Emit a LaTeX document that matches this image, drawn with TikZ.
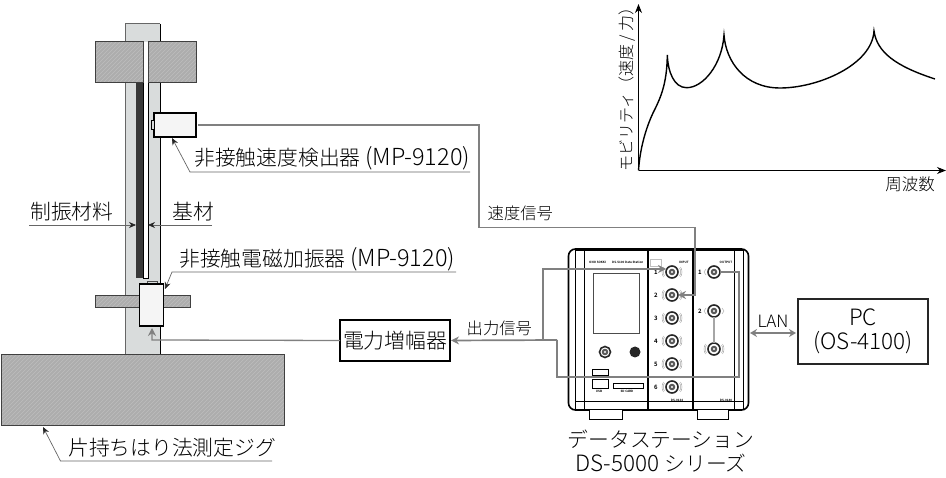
\documentclass[tikz,border=0pt]{standalone}
\usepackage{fontspec}
\usetikzlibrary{arrows.meta}
\setmainfont{Noto Sans CJK JP Light}
\definecolor{wire}{HTML}{808080}
\definecolor{colgray}{HTML}{D9DCDC}
\definecolor{hatchg}{HTML}{ADADAD}
\definecolor{hatchl}{HTML}{BDBDBD}
\definecolor{lead}{HTML}{666666}
\newcommand{\lat}[1]{{\fontsize{23.5}{24}\selectfont #1}}
\tikzset{x=1pt,y=-1pt,
 wireline/.style={draw=wire,line width=1.7pt},
 leader/.style={draw=lead,line width=.7pt},
 leadarrow/.style={leader,-{Stealth[length=7pt,width=6pt,black!85]}},
 wirearrow/.style={wireline,-{Stealth[length=8pt,width=8pt,wire]}},
 box/.style={draw=black,line width=1.5pt,fill=white,inner sep=0pt,outer sep=0pt},
 lab/.style={inner sep=0pt,font=\fontsize{20.8}{24}\selectfont},
 small/.style={inner sep=0pt,font=\fontsize{16.3}{18}\selectfont},
 tiny/.style={inner sep=0pt,font=\fontsize{3}{4}\selectfont\bfseries},
 chan/.style={inner sep=0pt,font=\fontsize{6}{7}\selectfont\bfseries},
 panel/.style={black,line width=1pt},
 bnc/.style={circle,draw=black!85,line width=1.6pt,fill=white,minimum size=12pt,inner sep=0pt,outer sep=0pt,
   path picture={\fill[black!65] (path picture bounding box.center) circle (3.3pt);\fill[white] (path picture bounding box.center) circle (1.2pt);}},
}
\newcommand{\hatchrect}[4]{\fill[hatchg] (#1,#2) rectangle (#3,#4);
 \begin{scope}
 \clip (#1,#2) rectangle (#3,#4);
 \foreach \d in {0,4,...,380}{\draw[hatchl,line width=.7pt] (#1-80+\d,#4) -- ++(90,-90);}
 \end{scope}
 \draw[black!75,line width=1pt] (#1,#2) rectangle (#3,#4);}
\newcommand{\wings}[2]{\draw[black!40,line width=.4pt] (#1-7.5,#2-4) .. controls (#1-9,#2-2) and (#1-9,#2+2) .. (#1-7.5,#2+4);
 \draw[black!40,line width=.4pt] (#1+7.5,#2-4) .. controls (#1+9,#2-2) and (#1+9,#2+2) .. (#1+7.5,#2+4);
 \draw[black!40,line width=.4pt] (#1-8.5,#2-5) .. controls (#1-10.5,#2-2) and (#1-10.5,#2+2) .. (#1-8.5,#2+5);
 \draw[black!40,line width=.4pt] (#1+8.5,#2-5) .. controls (#1+10.5,#2-2) and (#1+10.5,#2+2) .. (#1+8.5,#2+5);}
\begin{document}
\begin{tikzpicture}
\useasboundingbox (0,0) rectangle (946,478);
% column
\fill[colgray] (125,24) rectangle (160,355);
\draw[black!60,line width=1pt] (125,355) -- (125,24) -- (160,24);
\draw[black,line width=.8pt] (160,24) -- (160,355);
% plate & damping
\fill[white] (143,42) rectangle (148,278);
\draw[black,line width=.8pt] (148,42) -- (148,278) -- (143,278);
\draw[black,line width=.6pt] (143,42) -- (143,278);
\fill[black!78] (136,83) rectangle (143,278);
% clamp
\hatchrect{95}{42}{143}{83}
\hatchrect{148}{42}{196}{83}
\hatchrect{95}{296}{190}{308}
\hatchrect{1}{355}{284}{426}
% sensor
\node[box,fill=black!4,minimum width=42pt,minimum height=24pt] (sensor) at (175,125) {};
\draw[black,line width=.7pt,fill=colgray] (151,120.5) rectangle (154,129);
% actuator
\draw[black!70,line width=.7pt,fill=colgray] (147,281) rectangle (157,284);
\node[box,fill=black!4,minimum width=24pt,minimum height=42pt] (act) at (151.5,305) {};
% labels left
\node[lab,anchor=west] (lsensor) at (194,158) {非接触速度検出器 \lat{(MP-9120)}};
\node[lab,anchor=west] (ldamp) at (30,212) {制振材料};
\node[lab,anchor=west] (lbase) at (172,212) {基材};
\node[lab,anchor=west] (lact) at (179,259) {非接触電磁加振器 \lat{(MP-9120)}};
\node[lab,anchor=west] (ljig) at (68,448) {片持ちはり法測定ジグ};
% leaders
\coordinate (s1) at (470,172); \coordinate (s2) at (190,172); \coordinate (s3) at (172,138);
\draw[leadarrow] (s1) -- (s2) -- (s3);
\coordinate (d1) at (29,225); \coordinate (d2) at (136,225);
\draw[leadarrow] (d1) -- (d2);
\coordinate (b1) at (212,225); \coordinate (b2) at (148,225);
\draw[leadarrow] (b1) -- (b2);
\coordinate (a1) at (456,272); \coordinate (a2) at (172,272); \coordinate (a3) at (165,289);
\draw[leadarrow] (a1) -- (a2) -- (a3);
\coordinate (j1) at (272,461); \coordinate (j2) at (60.5,461); \coordinate (j3) at (43,427);
\draw[leadarrow] (j1) -- (j2) -- (j3);
% device
\draw[black,line width=1.6pt,fill=white,rounded corners=7pt] (568.5,249) rectangle (748.5,410);
\draw[black,line width=1pt,fill=white] (589,410) rectangle (622,420);
\draw[black,line width=1pt,fill=white] (697,410) rectangle (728,420);
\draw[panel,line width=.7pt] (575,250) -- (575,409);
\draw[panel,line width=.7pt] (743,250) -- (743,409);
\draw[panel] (584,250) -- (584,410);
\draw[panel] (734,250) -- (734,410);
\draw[panel] (575,402) -- (743,402);
\draw[panel] (575,251) -- (743,251);
\draw[panel,line width=1.8pt] (648,250) -- (648,410);
\draw[panel,line width=1.8pt] (693,250) -- (693,410);
\node[tiny,anchor=west] (brand) at (589,262) {ONO SOKKI};
\node[tiny,anchor=west] (model) at (612,262) {DS-5100 Data Station};
\node[tiny] (inp) at (684,262) {INPUT};
\node[tiny] (outp) at (726,262) {OUTPUT};
\draw[black!25,line width=.6pt] (650,259) rectangle (661,266);
\draw[black!70,line width=.7pt,fill=white] (593.5,273) rectangle (639,333);
\node[bnc,minimum size=11pt] (f1) at (605,352) {};
\node[circle,fill=black!85,minimum size=11pt,inner sep=0pt] (f2) at (635,352) {};
\draw[black,line width=.8pt] (592,369) rectangle (608,375);
\draw[black,line width=.8pt] (592,379) rectangle (608,388);
\draw[black,line width=.8pt] (613,383) rectangle (643,388);
\node[tiny] (usb) at (599,391.5) {USB};
\node[tiny] (sd) at (627,391.5) {SD CARD};
\foreach \n/\y in {1/272,2/295,3/318,4/341,5/364,6/387}{
  \node[bnc] (in\n) at (672,\y) {};
  \wings{672}{\y}
  \node[chan] (lb\n) at (656,\y) {\n};
}
\node[bnc] (o1) at (714,272) {};
\node[bnc] (o2) at (714,311) {};
\node[bnc] (o3) at (714,349) {};
\wings{714}{349}
\draw[black!40,line width=.4pt] (o1.west) ++(-2,-3) -- ++(-2,3) -- ++(2,3);
\draw[black!40,line width=.4pt] (o2.west) ++(-2,-3) -- ++(-2,3) -- ++(2,3);
\draw[black!40,line width=.4pt] (o2.east) ++(2,-3) -- ++(2,3) -- ++(-2,3);
\draw[black!35,line width=1.2pt] (o2) -- (o3);
\node[chan] (lo1) at (700,272) {1};
\node[chan] (lo2) at (700,311) {2};
\node[tiny] (mi) at (677,400) {DS-0134};
\node[tiny] (mo) at (726,400) {DS-0140};
% boxes
\node[box,minimum width=110pt,minimum height=41pt,lab] (amp) at (395,340.5) {電力増幅器};
\node[draw=black!85,line width=1.7pt,fill=white,minimum width=130pt,minimum height=65.5pt,inner sep=0pt,align=center,font=\fontsize{22.5}{24}\selectfont] (pc) at (863,331.5) {PC\\(OS-4100)};
% wires
\coordinate (w0) at (198,125); \coordinate (w1) at (479,125); \coordinate (w2) at (479,227.5); \coordinate (w3) at (695,227.5); \coordinate (w4) at (695,295);
\draw[wirearrow] (w0) -- (w1) -- (w2) -- (w3) -- (w4) -- (in2.east);
\coordinate (o1r) at (739,272); \coordinate (o1b) at (739,377); \coordinate (m1) at (557,377); \coordinate (m2) at (557,340);
\coordinate (i1) at (543,340); \coordinate (i2) at (543,269);
\coordinate (i3) at (666,269);
\draw[wireline] (o1.east) -- (o1r) -- (o1b) -- (m1) -- (m2);
\draw[wirearrow] (m2) -- (i1) -- (i2) -- (i3);
\draw[wirearrow,shorten >=1pt] (m2) -- (amp.east);
\coordinate (c1) at (152,340); \coordinate (c0) at (152,328);
\draw[wirearrow,line width=1.3pt] (amp.west) -- (c1) -- (c0);
\coordinate (lanL) at (750,333); \coordinate (lanR) at (796,333);
\draw[wireline,{Stealth[length=7pt,width=8pt,wire]}-{Stealth[length=7pt,width=8pt,wire]}] (lanL) -- (lanR);
% small labels
\node[small,anchor=west] (lv) at (487.5,213) {速度信号};
\node[small,anchor=west] (lo) at (466.5,328) {出力信号};
\node[inner sep=0pt,font=\fontsize{17}{18}\selectfont] (ll) at (773,321) {LAN};
\node[lab] (ds1) at (661,439) {データステーション};
\node[lab] (ds2) at (661,463) {\fontsize{22.5}{24}\selectfont DS-5000 \fontsize{20.8}{24}\selectfont シリーズ};
% graph
\coordinate (g0) at (638.5,170.5); \coordinate (gx) at (946,170.5); \coordinate (gy) at (638.5,4);
\draw[black,line width=1pt,-{Stealth[length=9pt,width=7pt]}] (g0) -- (gx);
\draw[black,line width=1pt,-{Stealth[length=9pt,width=7pt]}] (g0) -- (gy);
\draw[black,line width=1.4pt,line join=miter,miter limit=20]
 (g0) .. controls (640,148) and (646,128) .. (653,113)
 .. controls (660,99) and (667,85) .. (667.3,55)
 .. controls (668,72) and (674,87.7) .. (686.7,87.7)
 .. controls (703,87.7) and (722,65) .. (724,35)
 .. controls (726,62) and (745,88) .. (780,88)
 .. controls (818,88) and (872,65) .. (874,31)
 .. controls (877,52) and (895,66) .. (935,79);
\node[inner sep=0pt,rotate=90,anchor=west,font=\fontsize{16}{18}\selectfont] (ly) at (627,172) {モビリティ（速度 / 力）};
\node[inner sep=0pt,anchor=east,font=\fontsize{16.5}{18}\selectfont] (lx) at (935,184) {周波数};
\end{tikzpicture}
\end{document}
